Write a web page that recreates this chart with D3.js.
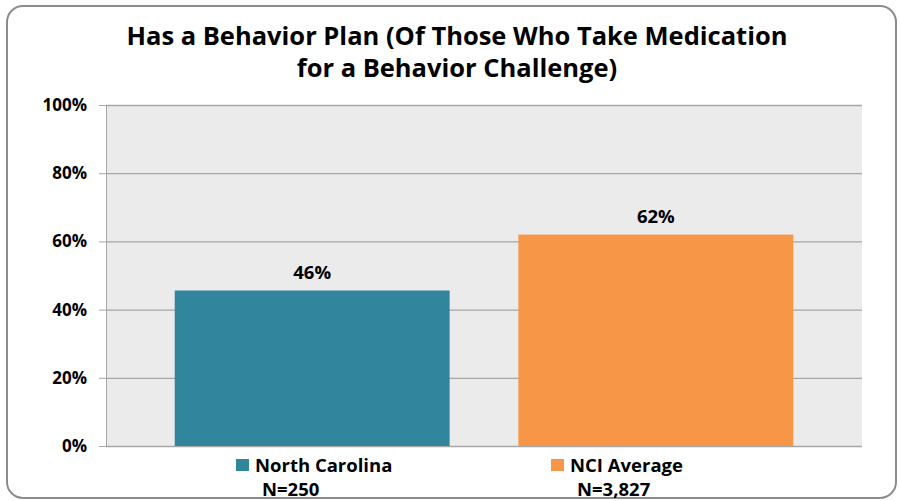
<!DOCTYPE html>
<html><head><meta charset="utf-8">
<script src="https://cdn.jsdelivr.net/npm/d3@7"></script>
<style>body{margin:0;background:#fff}svg{display:block;font-family:"Open Sans",sans-serif;font-weight:700}</style>
</head><body><svg id="c" width="900" height="501"></svg>
<script>
const titleLines = ["Has a Behavior Plan (Of Those Who Take Medication", "for a Behavior Challenge)"];
const categories = ["North Carolina", "NCI Average"];
const sampleSizes = ["N=250", "N=3,827"];
const values = [45.6, 62];
const colors = ["#31859c", "#f79646"];
const yTicks = [0, 20, 40, 60, 80, 100];

const svg = d3.select("#c");
const m = {left:106, right:862, top:105, bottom:446};

svg.append("rect").attr("x",7).attr("y",6).attr("width",889).attr("height",492)
  .attr("rx",16).attr("fill","#fff").attr("stroke","#8c8c8c").attr("stroke-width",2);

svg.append("g").selectAll("text").data(titleLines).join("text")
  .attr("x",457).attr("y",(d,i)=>45+i*32).attr("text-anchor","middle")
  .attr("font-size",25.5).attr("fill","#000").text(d=>d);

const x = d3.scaleBand().domain(categories).range([m.left,m.right]).paddingInner(0.2).paddingOuter(0.2);
const y = d3.scaleLinear().domain([0,100]).range([m.bottom,m.top]);

svg.append("rect").attr("x",m.left).attr("y",m.top).attr("width",m.right-m.left).attr("height",m.bottom-m.top).attr("fill","#ebebeb");

const ya = svg.append("g").attr("transform",`translate(${m.left},0)`)
  .call(d3.axisLeft(y).tickValues(yTicks).tickFormat(d=>d+"%").tickSize(7).tickPadding(12));
ya.select(".domain").attr("stroke","#a6a6a6");
ya.selectAll(".tick line").attr("stroke","#a6a6a6");
ya.selectAll(".tick text").attr("font-size",17).attr("font-family","Open Sans").attr("font-weight",700).attr("fill","#000");
ya.selectAll(".tick").append("line").attr("x1",0).attr("x2",m.right-m.left).attr("stroke","#a6a6a6").attr("stroke-width",1.3);

svg.append("g").selectAll("rect").data(values).join("rect")
  .attr("x",(d,i)=>x(categories[i])).attr("width",x.bandwidth())
  .attr("y",d=>y(d)).attr("height",d=>y(0)-y(d)).attr("fill",(d,i)=>colors[i]);

svg.append("g").selectAll("text").data(values).join("text")
  .attr("x",(d,i)=>x(categories[i])+x.bandwidth()/2).attr("y",d=>y(d)-12)
  .attr("text-anchor","middle").attr("font-size",18.5).attr("fill","#000")
  .text(d=>d3.format(".0f")(d)+"%");

const legX = [236, 551];
const lg = svg.append("g").selectAll("g").data(categories).join("g")
  .attr("transform",(d,i)=>`translate(${legX[i]},0)`);
lg.append("rect").attr("x",0).attr("y",459).attr("width",13).attr("height",12).attr("fill",(d,i)=>colors[i]);
lg.append("text").attr("x",19).attr("y",472).attr("font-size",18.5).attr("fill","#000").text(d=>d);
lg.append("text").attr("x",26).attr("y",496).attr("font-size",18.5).attr("fill","#000").text((d,i)=>sampleSizes[i]);
</script></body></html>
